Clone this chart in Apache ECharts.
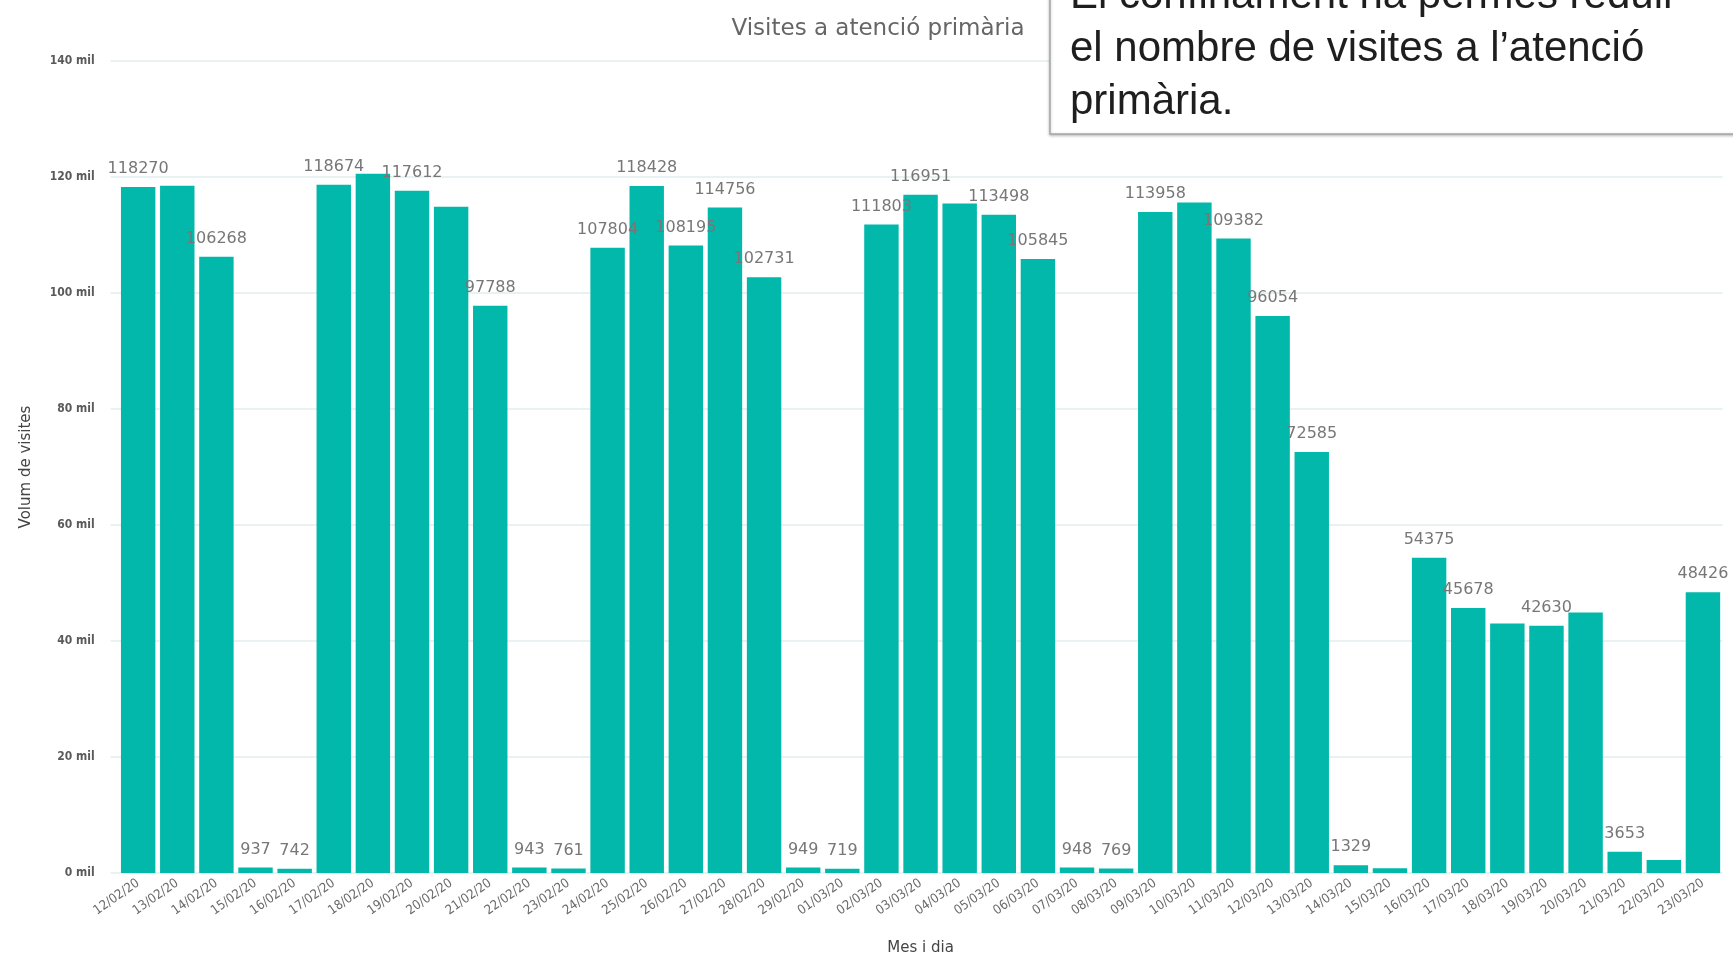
<!DOCTYPE html>
<html>
<head>
<meta charset="utf-8">
<title>Visites a atenció primària</title>
<script src="https://cdn.jsdelivr.net/npm/echarts@6/dist/echarts.min.js"></script>
<style>
  html, body { margin: 0; padding: 0; background: #fff; }
  #main { width: 1733px; height: 961px; }
</style>
</head>
<body>
<div id="main"></div>
<script>
// dates shown on the x axis
var dates = [
  "12/02/20", "13/02/20", "14/02/20", "15/02/20", "16/02/20", "17/02/20", "18/02/20",
  "19/02/20", "20/02/20", "21/02/20", "22/02/20", "23/02/20", "24/02/20", "25/02/20",
  "26/02/20", "27/02/20", "28/02/20", "29/02/20", "01/03/20", "02/03/20", "03/03/20",
  "04/03/20", "05/03/20", "06/03/20", "07/03/20", "08/03/20", "09/03/20", "10/03/20",
  "11/03/20", "12/03/20", "13/03/20", "14/03/20", "15/03/20", "16/03/20", "17/03/20",
  "18/03/20", "19/03/20", "20/03/20", "21/03/20", "22/03/20", "23/03/20"
];

// visites per dia
var visites = [
  118270, 118512, 106268, 937, 742, 118674, 120580,
  117612, 114880, 97788, 943, 761, 107804, 118428,
  108195, 114756, 102731, 949, 719, 111803, 116951,
  115430, 113498, 105845, 948, 769, 113958, 115620,
  109382, 96054, 72585, 1329, 835, 54375, 45678,
  43000, 42630, 44930, 3653, 2240, 48426
];

// dates whose value label is not shown in the original
var hiddenLabels = ["13/02/20", "18/02/20", "20/02/20", "04/03/20", "10/03/20",
  "15/03/20", "18/03/20", "20/03/20", "22/03/20"];

var yTicks = [0, 20000, 40000, 60000, 80000, 100000, 120000, 140000];

var chart = echarts.init(document.getElementById("main"));

var barData = visites.map(function (v, i) {
  var item = { value: v };
  if (hiddenLabels.indexOf(dates[i]) >= 0) item.label = { show: false };
  return item;
});

var gridColor = "#e1eeee";

chart.setOption({
  backgroundColor: "#ffffff",
  animation: false,
  title: {
    text: "Visites a atenció primària",
    left: 873,
    top: 13,
    textAlign: "center",
    textStyle: {
      fontFamily: "DejaVu Sans",
      fontSize: 23,
      fontWeight: "normal",
      color: "#666666"
    }
  },
  grid: {
    left: 118.6,
    right: 10.5,
    top: 61,
    bottom: 82
  },
  xAxis: {
    type: "category",
    data: dates,
    name: "Mes i dia",
    nameLocation: "middle",
    nameGap: 68,
    nameTextStyle: { fontFamily: "DejaVu Sans", fontSize: 15, color: "#444" },
    axisLine: { show: false },
    axisTick: { show: false },
    axisLabel: {
      interval: 0,
      rotate: 35,
      margin: 9,
      fontFamily: "DejaVu Sans Condensed",
      fontSize: 13,
      color: "#6a6a6a"
    }
  },
  yAxis: {
    type: "value",
    min: yTicks[0],
    max: yTicks[yTicks.length - 1],
    interval: yTicks[1] - yTicks[0],
    name: "Volum de visites",
    nameLocation: "middle",
    nameGap: 85,
    nameTextStyle: { fontFamily: "DejaVu Sans", fontSize: 15, color: "#444" },
    axisLine: { show: false },
    axisTick: { show: true, length: 8, lineStyle: { color: gridColor, width: 1.5 } },
    axisLabel: {
      margin: 24,
      fontFamily: "DejaVu Sans Condensed",
      fontSize: 12,
      fontWeight: "bold",
      color: "#5a5a5a",
      formatter: function (v) { return (v / 1000) + " mil"; }
    },
    splitLine: { lineStyle: { color: gridColor, width: 1.5 } }
  },
  series: [{
    type: "bar",
    data: barData,
    barCategoryGap: "12%",
    itemStyle: { color: "#01b8aa" },
    label: {
      show: true,
      position: "top",
      distance: 10,
      fontFamily: "DejaVu Sans",
      fontSize: 16,
      color: "#777777"
    }
  }],
  graphic: [{
    type: "rect",
    shape: { x: 1050, y: -20, width: 720, height: 154 },
    style: {
      fill: "#ffffff",
      stroke: "#a6a6a6",
      lineWidth: 1.5,
      shadowBlur: 3,
      shadowOffsetY: 1,
      shadowColor: "rgba(0,0,0,0.25)"
    },
    z: 10
  }, {
    type: "text",
    x: 1070,
    y: -30,
    style: {
      text: "El confinament ha permès reduir\nel nombre de visites a l\u2019atenció\nprimària.",
      font: "42px 'Liberation Sans', Arial, sans-serif",
      lineHeight: 53,
      fill: "#1e1e1e",
      verticalAlign: "top"
    },
    z: 11
  }]
});
</script>
</body>
</html>
